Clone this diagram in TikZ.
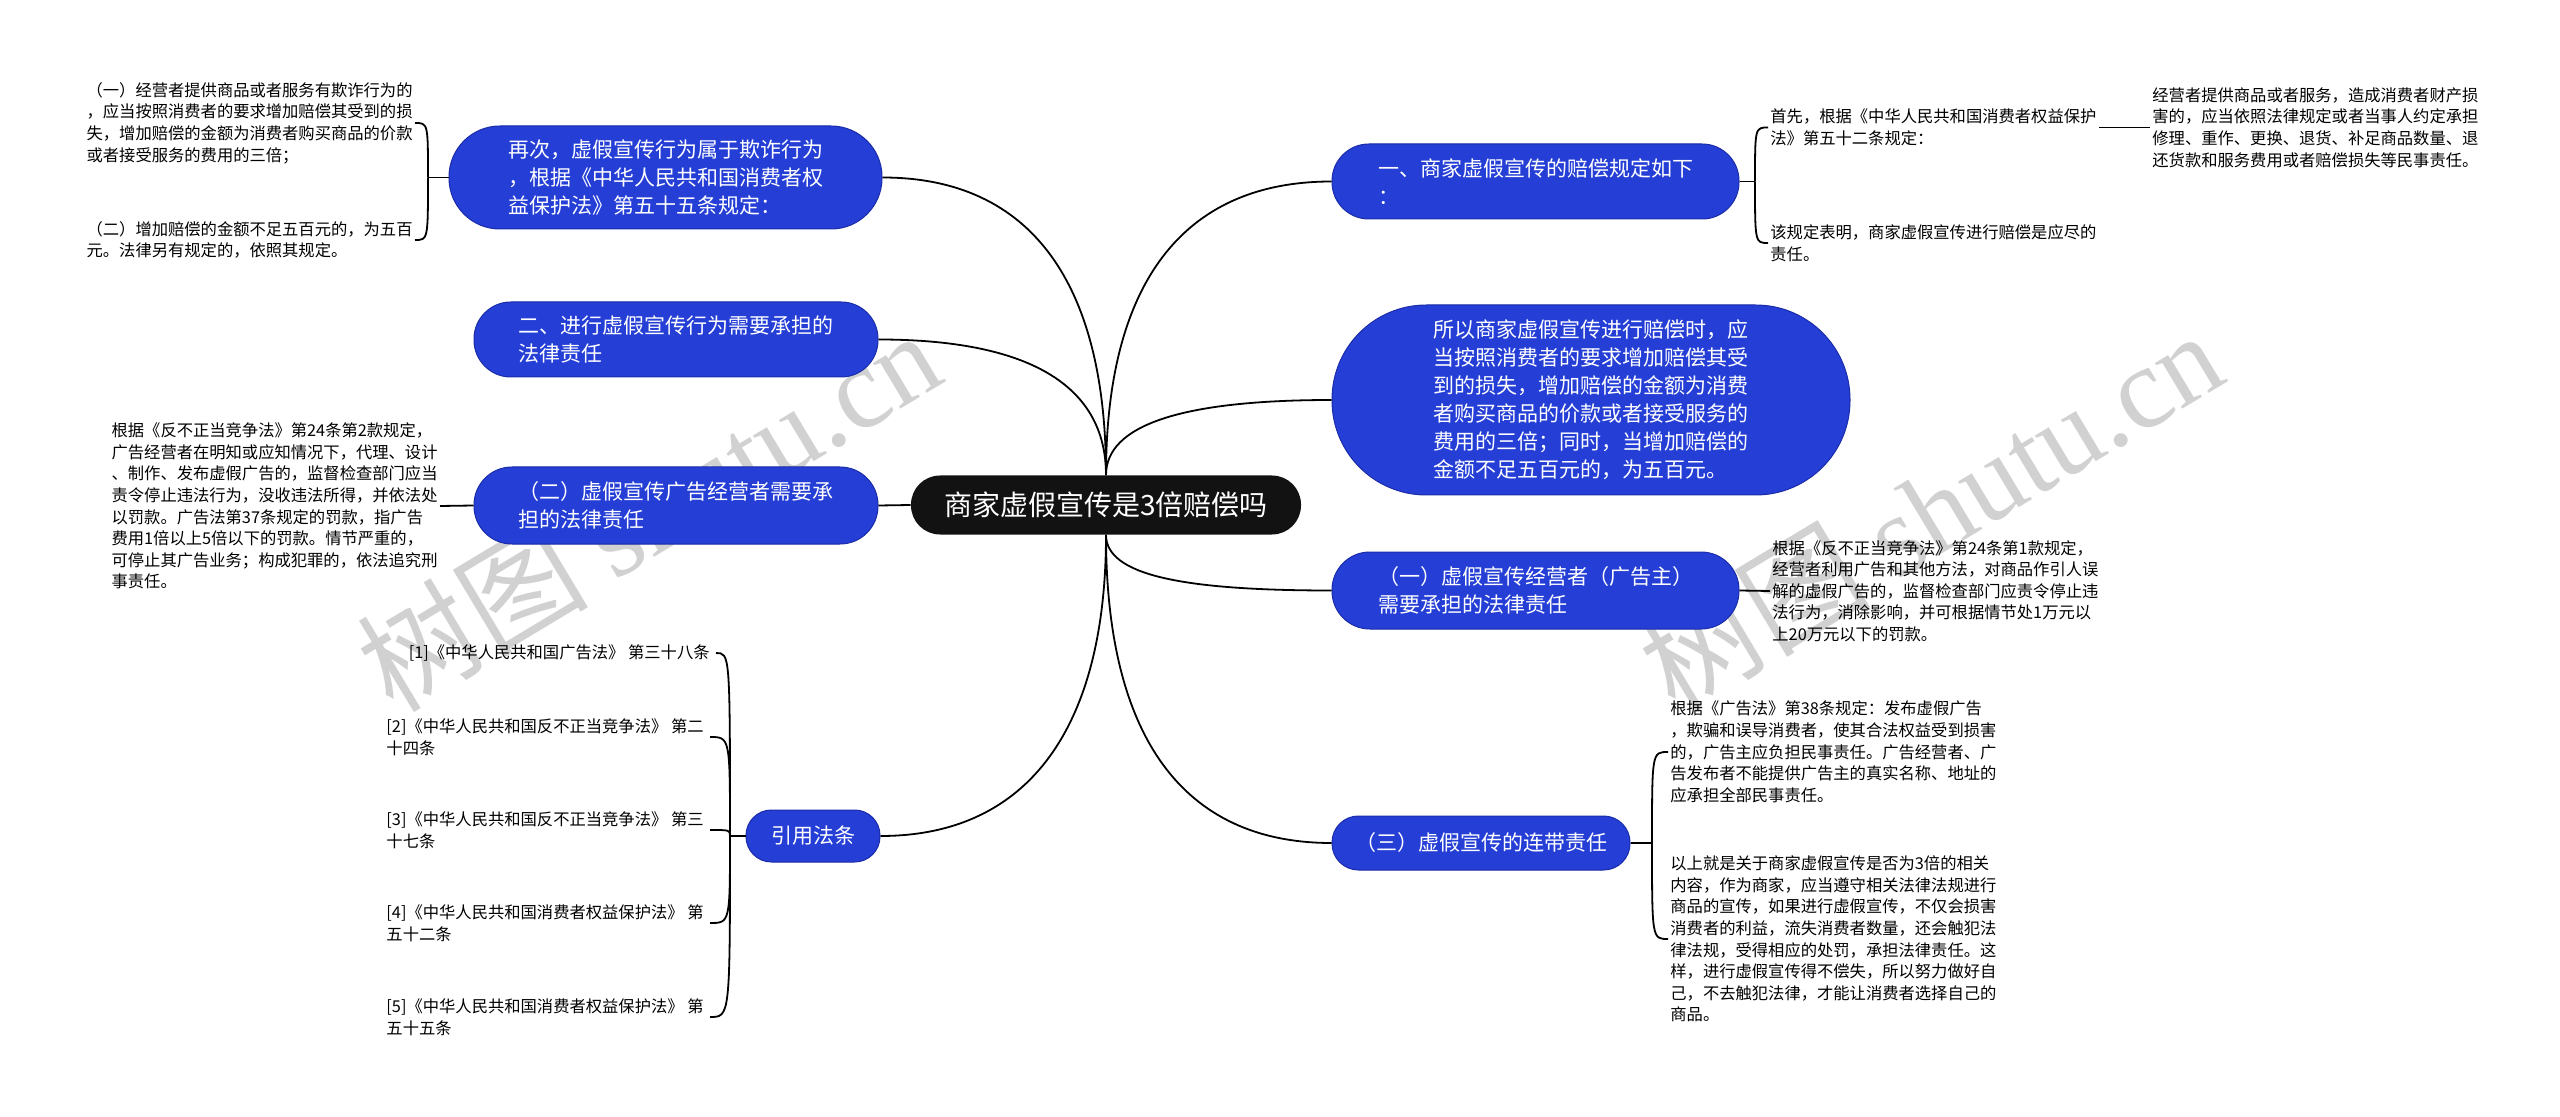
\documentclass[tikz,border=0pt]{standalone}
\usepackage{fontspec}
\setmainfont{Noto Sans CJK SC}
\newfontfamily\shuiyin{Liberation Serif}
\definecolor{lan}{RGB}{36,62,214}
\definecolor{lanbian}{RGB}{26,44,168}

\begin{document}
\begin{tikzpicture}[x=0.5pt,y=-0.5pt,
 zhu/.style={fill=black!93,text=white,font=\fontsize{14}{17}\selectfont,minimum width=195pt,minimum height=29.5pt,rounded corners=14.5pt,inner sep=0pt},
 zhi/.style={fill=lan,draw=lanbian,line width=0.5pt,text=white,font=\fontsize{10.5}{14}\selectfont,align=left,inner sep=0pt},
 kuang/.style 2 args={minimum width=#1,minimum height=#2,rounded corners=#2/2-0.3pt},
 zuoye/.style={font=\fontsize{8.15}{10.8}\selectfont,align=left,inner sep=1pt,anchor=east},
 youye/.style={zuoye,anchor=west},
 xian/.style={line width=0.9pt}]
 \fill[white](0,0) rectangle (2560,1117);
 \useasboundingbox (0,0) rectangle (2560,1117);
 % 水印
 \node[rotate=31,text=black!18,font=\fontsize{58}{60}\selectfont] (shuiyin1) at (648,510) {树图 {\shuiyin shutu.cn}};
 \node[rotate=31,text=black!18,font=\fontsize{58}{60}\selectfont] (shuiyin2) at (1930,510) {树图 {\shuiyin shutu.cn}};

 \node[zhu] (zhongxin) at (1106,505) {商家虚假宣传是3倍赔偿吗};
 \node[zhi,kuang={216.5pt}{51.5pt}] (zaici) at (665.5,177.5) {再次，虚假宣传行为属于欺诈行为\\，根据《中华人民共和国消费者权\\益保护法》第五十五条规定：};
 \node[zhi,kuang={202pt}{37.5pt}] (erjin) at (676,339.5) {二、进行虚假宣传行为需要承担的\\法律责任};
 \node[zhi,kuang={202pt}{38.5pt}] (erguang) at (676,505.5) {（二）虚假宣传广告经营者需要承\\担的法律责任};
 \node[zhi,kuang={67pt}{26pt}] (yinyong) at (813,836) {引用法条};
 \node[zhi,kuang={203.5pt}{37.5pt}] (yipei) at (1535.5,181.5) {一、商家虚假宣传的赔偿规定如下\\：};
 \node[zhi,kuang={259pt}{95pt}] (suoyi) at (1591,400) {所以商家虚假宣传进行赔偿时，应\\当按照消费者的要求增加赔偿其受\\到的损失，增加赔偿的金额为消费\\者购买商品的价款或者接受服务的\\费用的三倍；同时，当增加赔偿的\\金额不足五百元的，为五百元。};
 \node[zhi,kuang={203.5pt}{38.5pt}] (yijing) at (1535.5,590.5) {（一）虚假宣传经营者（广告主）\\需要承担的法律责任};
 \node[zhi,kuang={149pt}{27pt}] (sanlian) at (1481,843) {（三）虚假宣传的连带责任};

 % 左边的叶子
 \node[zuoye] (yi1) at (415,123) {（一）经营者提供商品或者服务有欺诈行为的\\，应当按照消费者的要求增加赔偿其受到的损\\失，增加赔偿的金额为消费者购买商品的价款\\或者接受服务的费用的三倍；};
 \node[zuoye] (yi2) at (415,240) {（二）增加赔偿的金额不足五百元的，为五百\\元。法律另有规定的，依照其规定。};
 \node[zuoye] (guanggao) at (440,506) {根据《反不正当竞争法》第24条第2款规定，\\广告经营者在明知或应知情况下，代理、设计\\、制作、发布虚假广告的，监督检查部门应当\\责令停止违法行为，没收违法所得，并依法处\\以罚款。广告法第37条规定的罚款，指广告\\费用1倍以上5倍以下的罚款。情节严重的，\\可停止其广告业务；构成犯罪的，依法追究刑\\事责任。};
 \node[zuoye] (fa1) at (712,653) {[1]《中华人民共和国广告法》 第三十八条};
 \node[zuoye] (fa2) at (706,737) {[2]《中华人民共和国反不正当竞争法》 第二\\十四条};
 \node[zuoye] (fa3) at (706,830) {[3]《中华人民共和国反不正当竞争法》 第三\\十七条};
 \node[zuoye] (fa4) at (706,923) {[4]《中华人民共和国消费者权益保护法》 第\\五十二条};
 \node[zuoye] (fa5) at (706,1017) {[5]《中华人民共和国消费者权益保护法》 第\\五十五条};

 % 右边的叶子
 \node[youye] (shouxian) at (1768,127.5) {首先，根据《中华人民共和国消费者权益保护\\法》第五十二条规定：};
 \node[youye] (gaiguiding) at (1768,243) {该规定表明，商家虚假宣传进行赔偿是应尽的\\责任。};
 \node[youye] (jingying) at (2150,127.5) {经营者提供商品或者服务，造成消费者财产损\\害的，应当依照法律规定或者当事人约定承担\\修理、重作、更换、退货、补足商品数量、退\\还货款和服务费用或者赔偿损失等民事责任。};
 \node[youye] (fanbu) at (1770,591) {根据《反不正当竞争法》第24条第1款规定，\\经营者利用广告和其他方法，对商品作引人误\\解的虚假广告的，监督检查部门应责令停止违\\法行为，消除影响，并可根据情节处1万元以\\上20万元以下的罚款。};
 \node[youye] (guanggaofa) at (1668,752) {根据《广告法》第38条规定：发布虚假广告\\，欺骗和误导消费者，使其合法权益受到损害\\的，广告主应负担民事责任。广告经营者、广\\告发布者不能提供广告主的真实名称、地址的\\应承担全部民事责任。};
 \node[youye] (yishang) at (1668,939) {以上就是关于商家虚假宣传是否为3倍的相关\\内容，作为商家，应当遵守相关法律法规进行\\商品的宣传，如果进行虚假宣传，不仅会损害\\消费者的利益，流失消费者数量，还会触犯法\\律法规，受得相应的处罚，承担法律责任。这\\样，进行虚假宣传得不偿失，所以努力做好自\\己，不去触犯法律，才能让消费者选择自己的\\商品。};

 % 中心到各分支
 \draw[xian](zhongxin.north) .. controls +(0,-190) and +(150,0) .. (zaici.east);
 \draw[xian](zhongxin.north) .. controls +(0,-90) and +(150,0) .. (erjin.east);
 \draw[xian](erguang.east)--(zhongxin.west);
 \draw[xian](zhongxin.south) .. controls +(0,190) and +(150,0) .. (yinyong.east);
 \draw[xian](zhongxin.north) .. controls +(0,-190) and +(-150,0) .. (yipei.west);
 \draw[xian](zhongxin.north) .. controls +(0,-50) and +(-150,0) .. (suoyi.west);
 \draw[xian](zhongxin.south) .. controls +(0,40) and +(-150,0) .. (yijing.west);
 \draw[xian](zhongxin.south) .. controls +(0,200) and +(-150,0) .. (sanlian.west);

 % 花括号
 \coordinate (jz1) at (428,177.5);
 \draw[xian](zaici.west)--(jz1);
 \foreach \y in {yi1,yi2}
  \draw[xian](jz1) .. controls (jz1 |- \y.east) .. (\y.east);
 \draw[xian](guanggao.east)--(erguang.west);
 \coordinate (jz2) at (730,836);
 \draw[xian](yinyong.west)--(jz2);
 \foreach \y in {fa1,fa2,fa3,fa4,fa5}
  \draw[xian](jz2) .. controls (jz2 |- \y.east) .. ([xshift=2pt]\y.east);
 \coordinate (jy1) at (1755,181.5);
 \draw[xian](yipei.east)--(jy1);
 \foreach \y in {shouxian,gaiguiding}
  \draw[xian](jy1) .. controls (jy1 |- \y.west) .. (\y.west);
 \draw[xian](shouxian.east)--(jingying.west);
 \draw[xian](yijing.east)--(fanbu.west);
 \coordinate (jy2) at (1652,843);
 \draw[xian](sanlian.east)--(jy2);
 \foreach \y in {guanggaofa,yishang}
  \draw[xian](jy2) .. controls (jy2 |- \y.west) .. (\y.west);
\end{tikzpicture}
\end{document}
